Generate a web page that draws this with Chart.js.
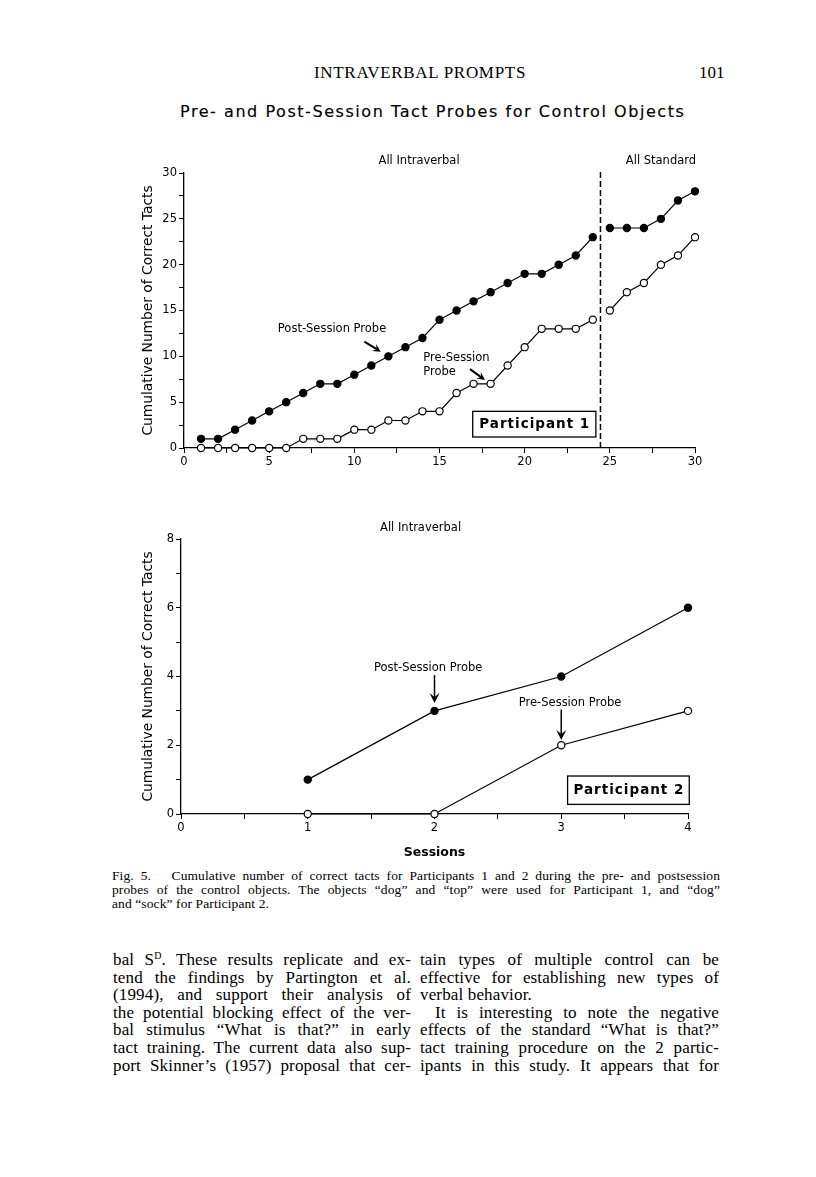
<!DOCTYPE html>
<html>
<head>
<meta charset="utf-8">
<script src="https://cdn.jsdelivr.net/npm/chart.js@4/dist/chart.umd.min.js"></script>
<style>
  body { margin: 0; background: #fff; }
  #page { position: relative; width: 816px; height: 1177px; overflow: hidden; color: #000; }
  .serif { font-family: 'Liberation Serif', 'Times New Roman', serif; }
  #hdr { position: absolute; left: 0; width: 840px; top: 63px; text-align: center; font-size: 17px; line-height: 20px; letter-spacing: 0.7px; }
  #pnum { position: absolute; left: 699px; top: 63px; font-size: 17px; line-height: 20px; }
  #title { position: absolute; left: 180px; top: 103px; font-family: 'DejaVu Sans', sans-serif; font-size: 16px; line-height: 18px; letter-spacing: 1.55px; white-space: nowrap; -webkit-text-stroke: 0.15px #000; }
  canvas { position: absolute; left: 0; }
  #c1 { top: 140px; }
  #c2 { top: 500px; }
  #caption { position: absolute; left: 112px; width: 608px; top: 869px; font-size: 13.5px; line-height: 14px; letter-spacing: 0.1px; }
  .col { position: absolute; top: 951px; width: 298px; font-size: 17px; line-height: 17.6px; letter-spacing: 0.15px; }
  #left { left: 113px; }
  #right { left: 420px; width: 299px; }
  .j { text-align: justify; text-align-last: justify; }
  .ind { text-indent: 15px; }
  sup { font-size: 10px; vertical-align: 6px; line-height: 0; }
</style>
</head>
<body>
<div id="page">
  <div id="hdr" class="serif">INTRAVERBAL PROMPTS</div>
  <div id="pnum" class="serif">101</div>
  <div id="title">Pre- and Post-Session Tact Probes for Control Objects</div>

  <canvas id="c1" width="816" height="330"></canvas>
  <canvas id="c2" width="816" height="366"></canvas>

  <div id="caption" class="serif">
    <div class="j">Fig. 5.&nbsp;&nbsp; Cumulative number of correct tacts for Participants 1 and 2 during the pre- and postsession</div>
    <div class="j">probes of the control objects. The objects “dog” and “top” were used for Participant 1, and “dog”</div>
    <div>and “sock” for Participant 2.</div>
  </div>

  <div id="left" class="col serif">
    <div class="j">bal S<sup>D</sup>. These results replicate and ex-</div>
    <div class="j">tend the findings by Partington et al.</div>
    <div class="j">(1994), and support their analysis of</div>
    <div class="j">the potential blocking effect of the ver-</div>
    <div class="j">bal stimulus “What is that?” in early</div>
    <div class="j">tact training. The current data also sup-</div>
    <div class="j">port Skinner’s (1957) proposal that cer-</div>
  </div>
  <div id="right" class="col serif">
    <div class="j">tain types of multiple control can be</div>
    <div class="j">effective for establishing new types of</div>
    <div>verbal behavior.</div>
    <div class="j ind">It is interesting to note the negative</div>
    <div class="j">effects of the standard “What is that?”</div>
    <div class="j">tact training procedure on the 2 partic-</div>
    <div class="j">ipants in this study. It appears that for</div>
  </div>
</div>

<script>
// Participant 1
const sessionsP1 = [1, 2, 3, 4, 5, 6, 7, 8, 9, 10, 11, 12, 13, 14, 15,
                    16, 17, 18, 19, 20, 21, 22, 23, 24, 25, 26, 27, 28, 29, 30];
const postP1 = [1, 1, 2, 3, 4, 5, 6, 7, 7, 8, 9, 10, 11, 12, 14,
                15, 16, 17, 18, 19, 19, 20, 21, 23, 24, 24, 24, 25, 27, 28];
const preP1 = [0, 0, 0, 0, 0, 0, 1, 1, 1, 2, 2, 3, 3, 4, 4,
               6, 7, 7, 9, 11, 13, 13, 13, 14, 15, 17, 18, 20, 21, 23];
const phaseChangeP1 = 24.45;
const xLabelsP1 = [0, 5, 10, 15, 20, 25, 30];
const yLabelsP1 = [0, 5, 10, 15, 20, 25, 30];

// Participant 2
const sessionsP2 = [1, 2, 3, 4];
const postP2 = [1, 3, 4, 6];
const preP2 = [0, 0, 2, 3];
const xLabelsP2 = [0, 1, 2, 3, 4];
const yLabelsP2 = [0, 2, 4, 6, 8];

Chart.defaults.font.family = "'DejaVu Sans', sans-serif";
Chart.defaults.color = '#000';

const tickFont = { size: 11.5 };
const textFont = "11.5px 'DejaVu Sans', sans-serif";
const boxFont = "bold 13.5px 'DejaVu Sans', sans-serif";

function pts(xs, ys) {
    return xs.map((s, i) => ({ x: s, y: ys[i] }));
}

function lineSet(label, data, filled, extra) {
    return Object.assign({
        label: label,
        data: data,
        borderColor: '#000',
        borderWidth: 1.2,
        pointRadius: 3.6,
        pointBorderWidth: 1.2,
        pointBorderColor: '#000',
        pointBackgroundColor: filled ? '#000' : '#fff',
        tension: 0,
        clip: false
    }, extra || {});
}

function axis(min, max, step, labels, width, height, title) {
    const a = {
        type: 'linear',
        min: min,
        max: max,
        ticks: {
            stepSize: step,
            autoSkip: false,
            maxRotation: 0,
            padding: 2,
            font: tickFont,
            callback: v => labels.includes(v) ? String(v) : ''
        },
        grid: { drawOnChartArea: false, drawTicks: true, tickLength: 5, color: '#000', lineWidth: 1 },
        border: { display: true, color: '#000', width: 1.3 }
    };
    if (width) a.afterFit = s => { s.width = width; };
    if (height) a.afterFit = s => { s.height = height; };
    if (title) a.title = title;
    return a;
}

// draws the labels, arrows, phase line and participant box in data units
function annotations(id, spec) {
    return {
        id: id,
        afterDraw(chart) {
            const { ctx, scales: { x, y } } = chart;
            ctx.save();
            ctx.strokeStyle = '#000';
            ctx.fillStyle = '#000';
            (spec.vlines || []).forEach(v => {
                const px = x.getPixelForValue(v.x);
                ctx.lineWidth = 1.5;
                ctx.setLineDash([6, 3]);
                ctx.beginPath();
                ctx.moveTo(px, y.getPixelForValue(v.y0));
                ctx.lineTo(px, y.getPixelForValue(v.y1));
                ctx.stroke();
            });
            ctx.setLineDash([]);
            (spec.texts || []).forEach(t => {
                ctx.font = textFont;
                ctx.textAlign = t.align || 'center';
                ctx.textBaseline = 'middle';
                ctx.fillText(t.text, x.getPixelForValue(t.x), y.getPixelForValue(t.y));
            });
            (spec.arrows || []).forEach(a => {
                const x1 = x.getPixelForValue(a.x1), y1 = y.getPixelForValue(a.y1);
                const x2 = x.getPixelForValue(a.x2), y2 = y.getPixelForValue(a.y2);
                const ang = Math.atan2(y2 - y1, x2 - x1);
                const hl = a.head, hw = a.head * 0.5;
                ctx.lineWidth = a.width;
                ctx.beginPath();
                ctx.moveTo(x1, y1);
                ctx.lineTo(x2 - Math.cos(ang) * hl * 0.6, y2 - Math.sin(ang) * hl * 0.6);
                ctx.stroke();
                ctx.beginPath();
                ctx.moveTo(x2, y2);
                ctx.lineTo(x2 - Math.cos(ang) * hl - Math.sin(ang) * hw, y2 - Math.sin(ang) * hl + Math.cos(ang) * hw);
                ctx.lineTo(x2 - Math.cos(ang) * hl * 0.6, y2 - Math.sin(ang) * hl * 0.6);
                ctx.lineTo(x2 - Math.cos(ang) * hl + Math.sin(ang) * hw, y2 - Math.sin(ang) * hl - Math.cos(ang) * hw);
                ctx.closePath();
                ctx.fill();
            });
            (spec.boxes || []).forEach(b => {
                const l = x.getPixelForValue(b.x0), r = x.getPixelForValue(b.x1);
                const t = y.getPixelForValue(b.y1), btm = y.getPixelForValue(b.y0);
                ctx.fillStyle = '#fff';
                ctx.fillRect(l, t, r - l, btm - t);
                ctx.fillStyle = '#000';
                ctx.lineWidth = 1.3;
                ctx.strokeRect(l, t, r - l, btm - t);
                ctx.font = boxFont;
                if ('letterSpacing' in ctx) ctx.letterSpacing = '1px';
                ctx.textAlign = 'center';
                ctx.textBaseline = 'middle';
                ctx.fillText(b.text, (l + r) / 2 + 0.5, (t + btm) / 2 + 0.5);
                if ('letterSpacing' in ctx) ctx.letterSpacing = '0px';
            });
            ctx.restore();
        }
    };
}

const yTitle = {
    display: true,
    text: 'Cumulative Number of Correct Tacts',
    font: { size: 13.8 },
    padding: { top: 4, bottom: 0 }
};

new Chart(document.getElementById('c1'), {
    type: 'line',
    data: {
        datasets: [
            lineSet('Post-Session Probe', pts(sessionsP1, postP1), true, {
                segment: { borderColor: c => (c.p0.parsed.x < phaseChangeP1 && c.p1.parsed.x > phaseChangeP1) ? 'rgba(0,0,0,0)' : '#000' }
            }),
            lineSet('Pre-Session Probe', pts(sessionsP1, preP1), false, {
                segment: { borderColor: c => (c.p0.parsed.x < phaseChangeP1 && c.p1.parsed.x > phaseChangeP1) ? 'rgba(0,0,0,0)' : '#000' }
            })
        ]
    },
    options: {
        responsive: false,
        animation: false,
        devicePixelRatio: 1,
        layout: { padding: { left: 136, right: 121, top: 33, bottom: 0 } },
        plugins: { legend: { display: false }, tooltip: { enabled: false } },
        scales: {
            x: axis(0, 30, 2.5, xLabelsP1, null, 22),
            y: axis(0, 30, 2.5, yLabelsP1, 48, null, yTitle)
        }
    },
    plugins: [annotations('annot1', {
        vlines: [{ x: phaseChangeP1, y0: 0, y1: 30.25 }],
        texts: [
            { text: 'All Intraverbal', x: 13.8, y: 31.3 },
            { text: 'All Standard', x: 28.0, y: 31.3 },
            { text: 'Post-Session Probe', x: 8.69, y: 12.95 },
            { text: 'Pre-Session', x: 14.05, y: 9.79, align: 'left' },
            { text: 'Probe', x: 14.05, y: 8.27, align: 'left' }
        ],
        arrows: [
            { x1: 10.59, y1: 11.6, x2: 11.55, y2: 10.51, width: 2, head: 8 },
            { x1: 16.79, y1: 8.6, x2: 17.67, y2: 7.43, width: 2, head: 8 }
        ],
        boxes: [{ text: 'Participant 1', x0: 16.95, x1: 24.18, y0: 1.2, y1: 4.0 }]
    })]
});

new Chart(document.getElementById('c2'), {
    type: 'line',
    data: {
        datasets: [
            lineSet('Post-Session Probe', pts(sessionsP2, postP2), true),
            lineSet('Pre-Session Probe', pts(sessionsP2, preP2), false)
        ]
    },
    options: {
        responsive: false,
        animation: false,
        devicePixelRatio: 1,
        layout: { padding: { left: 136, right: 128, top: 39, bottom: 0 } },
        plugins: { legend: { display: false }, tooltip: { enabled: false } },
        scales: {
            x: axis(0, 4, 0.5, xLabelsP2, null, 52, {
                display: true,
                text: 'Sessions',
                font: { size: 12.5, weight: 'bold' },
                padding: { top: 0, bottom: 5.5 }
            }),
            y: axis(0, 8, 1, yLabelsP2, 45, null, yTitle)
        }
    },
    plugins: [annotations('annot2', {
        texts: [
            { text: 'All Intraverbal', x: 1.89, y: 8.32 },
            { text: 'Post-Session Probe', x: 1.95, y: 4.24 },
            { text: 'Pre-Session Probe', x: 3.07, y: 3.22 }
        ],
        arrows: [
            { x1: 2.0, y1: 4.04, x2: 2.0, y2: 3.23, width: 1.5, head: 10 },
            { x1: 3.0, y1: 3.04, x2: 3.0, y2: 2.15, width: 1.5, head: 10 }
        ],
        boxes: [{ text: 'Participant 2', x0: 3.05, x1: 4.01, y0: 0.28, y1: 1.105 }]
    })]
});
</script>
</body>
</html>
